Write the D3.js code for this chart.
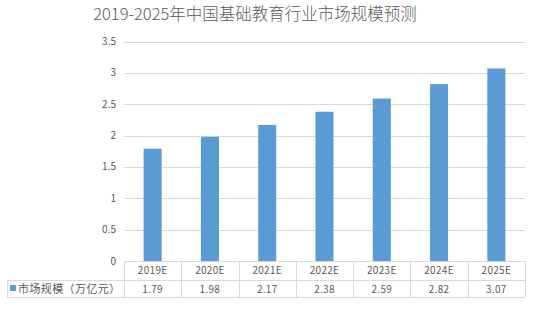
<!DOCTYPE html>
<html>
<head>
<meta charset="utf-8">
<script src="https://cdn.jsdelivr.net/npm/d3@7"></script>
<style>
  body { margin: 0; background: #fff; }
  text { font-family: "Noto Sans CJK SC", "Noto Sans", sans-serif; fill: #595959; }
</style>
</head>
<body>
<div id="chart"></div>
<script>
var years = ["2019E", "2020E", "2021E", "2022E", "2023E", "2024E", "2025E"];
var values = [1.79, 1.98, 2.17, 2.38, 2.59, 2.82, 3.07];
var valueLabels = ["1.79", "1.98", "2.17", "2.38", "2.59", "2.82", "3.07"];
var yTicks = [0, 0.5, 1, 1.5, 2, 2.5, 3, 3.5];
var seriesName = "市场规模（万亿元）";
var title = "2019-2025年中国基础教育行业市场规模预测";

var width = 535, height = 310;
var plotLeft = 124, plotRight = 525, plotTop = 41.5, plotBottom = 261;
var rowH = 17.5;
var tableLeft = 7;
var barColor = "#5B9BD5";
var lineColor = "#D9D9D9";

var svg = d3.select("#chart").append("svg")
    .attr("width", width)
    .attr("height", height);

var x = d3.scaleBand()
    .domain(years)
    .range([plotLeft, plotRight])
    .paddingInner(0.685)
    .paddingOuter(0.3425);

var cell = d3.scaleBand()
    .domain(years)
    .range([plotLeft, plotRight]);

var y = d3.scaleLinear()
    .domain([0, 3.5])
    .range([plotBottom, plotTop]);

svg.append("text")
    .attr("x", 255)
    .attr("y", 20)
    .attr("text-anchor", "middle")
    .attr("font-size", 16.5)
    .attr("font-weight", 300)
    .text(title);

// gridlines
svg.append("g").selectAll("line")
    .data(yTicks.slice(1))
    .enter().append("line")
    .attr("x1", plotLeft).attr("x2", plotRight)
    .attr("y1", function(d) { return Math.round(y(d)) + 0.5; })
    .attr("y2", function(d) { return Math.round(y(d)) + 0.5; })
    .attr("stroke", lineColor);

svg.append("g").selectAll("text")
    .data(yTicks)
    .enter().append("text")
    .attr("x", 116)
    .attr("y", function(d) { return y(d) + 3.5; })
    .attr("text-anchor", "end")
    .attr("font-size", 10)
    .text(function(d) { return d; });

svg.append("g").selectAll("rect")
    .data(values)
    .enter().append("rect")
    .attr("x", function(d, i) { return x(years[i]); })
    .attr("width", x.bandwidth())
    .attr("y", function(d) { return y(d); })
    .attr("height", function(d) { return y(0) - y(d); })
    .attr("fill", barColor);

// data table
var table = svg.append("g")
    .attr("stroke", lineColor)
    .attr("shape-rendering", "crispEdges");

var r0 = plotBottom, r1 = plotBottom + rowH + 1.5, r2 = r1 + rowH - 1;

table.append("line").attr("x1", plotLeft).attr("x2", plotRight).attr("y1", r0 + 0.5).attr("y2", r0 + 0.5);
table.append("line").attr("x1", tableLeft).attr("x2", plotRight).attr("y1", r1 + 0.5).attr("y2", r1 + 0.5);
table.append("line").attr("x1", tableLeft).attr("x2", plotRight).attr("y1", r2 + 0.5).attr("y2", r2 + 0.5);
table.append("line").attr("x1", tableLeft + 0.5).attr("x2", tableLeft + 0.5).attr("y1", r1).attr("y2", r2);

table.selectAll(".vsep")
    .data(years.concat(["end"]))
    .enter().append("line")
    .attr("class", "vsep")
    .attr("x1", function(d, i) { return Math.round(plotLeft + i * cell.bandwidth()) + 0.5; })
    .attr("x2", function(d, i) { return Math.round(plotLeft + i * cell.bandwidth()) + 0.5; })
    .attr("y1", r0).attr("y2", r2);

svg.append("g").selectAll("text")
    .data(years)
    .enter().append("text")
    .attr("x", function(d) { return cell(d) + cell.bandwidth() / 2; })
    .attr("y", r0 + 13)
    .attr("text-anchor", "middle")
    .attr("font-size", 10)
    .attr("letter-spacing", 0.3)
    .text(function(d) { return d; });

svg.append("g").selectAll("text")
    .data(valueLabels)
    .enter().append("text")
    .attr("x", function(d, i) { return cell(years[i]) + cell.bandwidth() / 2; })
    .attr("y", r1 + 12.5)
    .attr("text-anchor", "middle")
    .attr("font-size", 10)
    .attr("letter-spacing", 0.3)
    .text(function(d) { return d; });

svg.append("rect")
    .attr("x", 10).attr("y", r1 + 5)
    .attr("width", 6).attr("height", 6)
    .attr("fill", barColor);

svg.append("text")
    .attr("x", 18)
    .attr("y", r1 + 12.5)
    .attr("font-size", 11)
    .attr("letter-spacing", 0.4)
    .text(seriesName);
</script>
</body>
</html>
